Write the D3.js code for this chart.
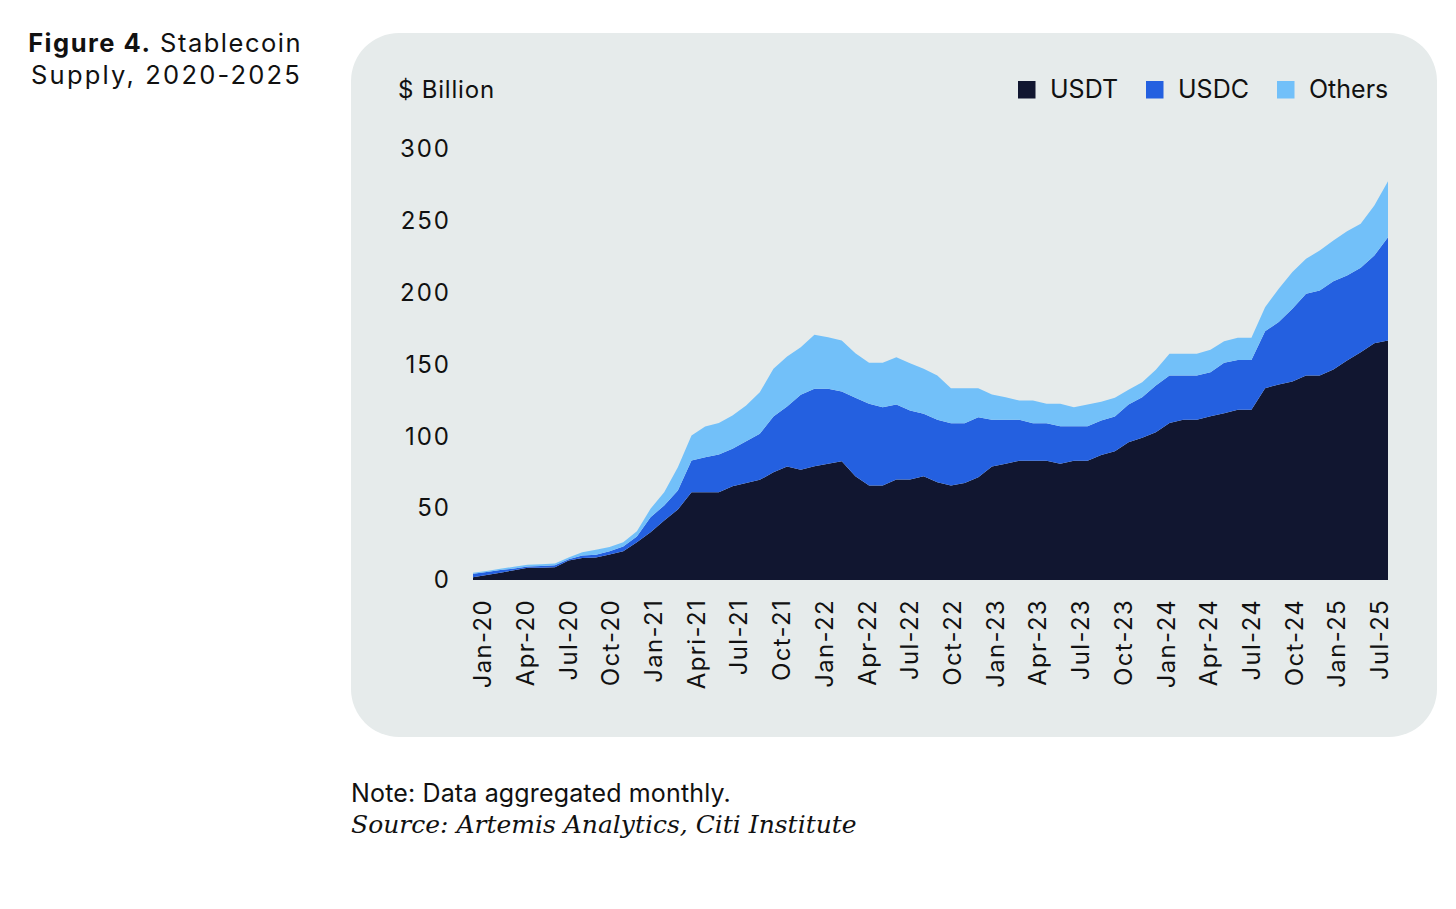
<!DOCTYPE html>
<html>
<head>
<meta charset="utf-8">
<script src="https://cdn.jsdelivr.net/npm/d3@7/dist/d3.min.js"></script>
<style>
  html, body { margin: 0; padding: 0; background: #ffffff; }
  svg { display: block; }
  text { font-family: Inter, "Noto Sans", sans-serif; fill: #111111; }
</style>
</head>
<body>
<svg id="chart" width="1456" height="909"></svg>
<script>
// ---------------- DATA ($ billion, monthly) ----------------
const seriesKeys = ["USDT", "USDC", "Others"];

const usdt = [2, 3.5, 5, 6.8, 8.5, 8.6, 8.8, 13.6, 15.4, 15.6, 17.7, 20,
  26.3, 33.3, 41.4, 49, 61.1, 61.1, 61.1, 65.3, 67.6, 69.7, 75, 79,
  76.7, 79.2, 81, 82.7, 72.3, 65.8, 65.8, 70, 70, 72.3, 68.1, 65.8,
  67.6, 71.6, 79, 80.9, 83, 83, 83, 80.9, 83, 83, 87, 89.7,
  95.9, 99, 102.9, 109.2, 111.5, 111.5, 114, 116.1, 118.5, 118.5, 133.5, 136.1,
  138.2, 142.3, 142.3, 146.5, 152.8, 158.6, 164.8, 166.7];

const usdc = [2.3, 2.0, 2.0, 1.2, 0.9, 1.2, 1.5, 0.9, 1.6, 1.9, 2.3, 3.3,
  4.0, 10.4, 10.5, 13.3, 22.1, 24.4, 26.3, 26.0, 29.0, 32.1, 38.8, 41.8,
  52.2, 53.9, 52.1, 48.5, 54.5, 56.8, 54.5, 52.2, 48.0, 43.4, 43.4, 43.3,
  41.5, 41.7, 32.5, 30.6, 28.5, 26.1, 26.1, 26.2, 24.1, 24.1, 24.0, 24.1,
  26.3, 28.2, 32.5, 33.1, 30.8, 30.8, 30.6, 35.1, 34.7, 34.7, 39.7, 43.4,
  50.6, 56.9, 59.2, 61.5, 59.1, 58.7, 61.1, 71.9];

const others = [0.7, 0.7, 0.8, 1.2, 1.2, 1.2, 1.1, 1.1, 2.4, 3.5, 3.0, 3.0,
  3.7, 5.9, 9.2, 16.2, 17.4, 21.3, 21.8, 23.2, 24.9, 28.9, 33.2, 34.8,
  33.1, 37.6, 35.9, 35.5, 31.1, 28.6, 30.9, 32.9, 32.9, 31.3, 30.8, 24.4,
  24.4, 20.2, 17.6, 15.7, 13.4, 15.8, 13.5, 15.5, 13.2, 15.1, 13, 13,
  10.2, 10.5, 10.9, 15.1, 15.1, 15.1, 15.6, 15.0, 15.4, 15.4, 16.7, 23.2,
  25.5, 24.4, 27.8, 28.3, 30.9, 30.6, 34.8, 39];

const months = d3.timeMonth.range(new Date(2020, 0, 1), new Date(2025, 8, 1))
  .map(d3.timeFormat("%b-%y"));

const xTickLabels = ["Jan-20", "Apr-20", "Jul-20", "Oct-20", "Jan-21", "Apri-21",
  "Jul-21", "Oct-21", "Jan-22", "Apr-22", "Jul-22", "Oct-22", "Jan-23", "Apr-23",
  "Jul-23", "Oct-23", "Jan-24", "Apr-24", "Jul-24", "Oct-24", "Jan-25", "Jul-25"];

const yTicks = [0, 50, 100, 150, 200, 250, 300];

const colors = { USDT: "#111630", USDC: "#2460e0", Others: "#72c0f9" };

// ---------------- TABLE ----------------
const table = months.map((m, i) => ({ month: m, USDT: usdt[i], USDC: usdc[i], Others: others[i] }));

// ---------------- LAYOUT ----------------
const svg = d3.select("#chart");

// title
const title = svg.append("text")
  .attr("x", 302).attr("y", 52)
  .attr("text-anchor", "end")
  .style("font-size", "25.5px")
  .style("letter-spacing", "1.5px");
title.append("tspan").style("font-weight", "700").text("Figure 4.");
title.append("tspan").text(" Stablecoin");
svg.append("text")
  .attr("x", 302).attr("y", 84)
  .attr("text-anchor", "end")
  .style("font-size", "25.5px")
  .style("letter-spacing", "2.2px")
  .text("Supply, 2020-2025");

// panel
svg.append("rect")
  .attr("x", 351).attr("y", 33)
  .attr("width", 1086).attr("height", 704)
  .attr("rx", 48).attr("ry", 48)
  .attr("fill", "#e6ebeb");

// scales
const x = d3.scalePoint().domain(months).range([473, 1388]);
const xLab = d3.scalePoint().domain(xTickLabels).range([473, 1388]).padding(0.21);
const y = d3.scaleLinear().domain([0, 300]).range([580, 149]);

// stacked areas
const stack = d3.stack().keys(seriesKeys);
const layers = stack(table);
const area = d3.area()
  .x(d => x(d.data.month))
  .y0(d => y(d[0]))
  .y1(d => y(d[1]))
  .curve(d3.curveLinear);

svg.append("g").selectAll("path")
  .data(layers)
  .join("path")
  .attr("d", area)
  .attr("fill", d => colors[d.key]);

// y axis
const yAxis = d3.axisLeft(y).tickValues(yTicks).tickSize(0).tickPadding(0);
const gy = svg.append("g").attr("transform", "translate(451,0)").call(yAxis);
gy.select(".domain").remove();
gy.selectAll("text")
  .style("font-family", "Inter, 'Noto Sans', sans-serif")
  .style("font-size", "24px")
  .style("letter-spacing", "2px")
  .attr("fill", "#111111");

// x axis
const xAxis = d3.axisBottom(xLab).tickSize(0).tickPadding(0);
const gx = svg.append("g").attr("transform", "translate(0,580)").call(xAxis);
gx.select(".domain").remove();
gx.selectAll("text")
  .style("font-family", "Inter, 'Noto Sans', sans-serif")
  .style("font-size", "24px")
  .style("letter-spacing", "1.3px")
  .attr("fill", "#111111")
  .attr("text-anchor", "end")
  .attr("transform", "rotate(-90)")
  .attr("x", -19)
  .attr("y", 0)
  .attr("dy", "0.36em");

// y label
svg.append("text")
  .attr("x", 398).attr("y", 98)
  .style("font-size", "24px")
  .style("letter-spacing", "0.8px")
  .text("$ Billion");

// legend
const legendPos = { USDT: 1018, USDC: 1146, Others: 1277 };
const lg = svg.append("g");
seriesKeys.forEach(k => {
  lg.append("rect")
    .attr("x", legendPos[k]).attr("y", 81)
    .attr("width", 17.5).attr("height", 17.5)
    .attr("fill", colors[k]);
  lg.append("text")
    .attr("x", legendPos[k] + 32).attr("y", 98)
    .style("font-size", "25px")
    .text(k);
});

// notes
svg.append("text")
  .attr("x", 351).attr("y", 802)
  .style("font-size", "25px")
  .style("letter-spacing", "0.15px")
  .text("Note: Data aggregated monthly.");
svg.append("text")
  .attr("x", 351).attr("y", 833)
  .style("font-family", "'DejaVu Serif', 'Liberation Serif', serif")
  .style("font-style", "italic")
  .style("font-size", "25px")
  .text("Source: Artemis Analytics, Citi Institute");
</script>
</body>
</html>
